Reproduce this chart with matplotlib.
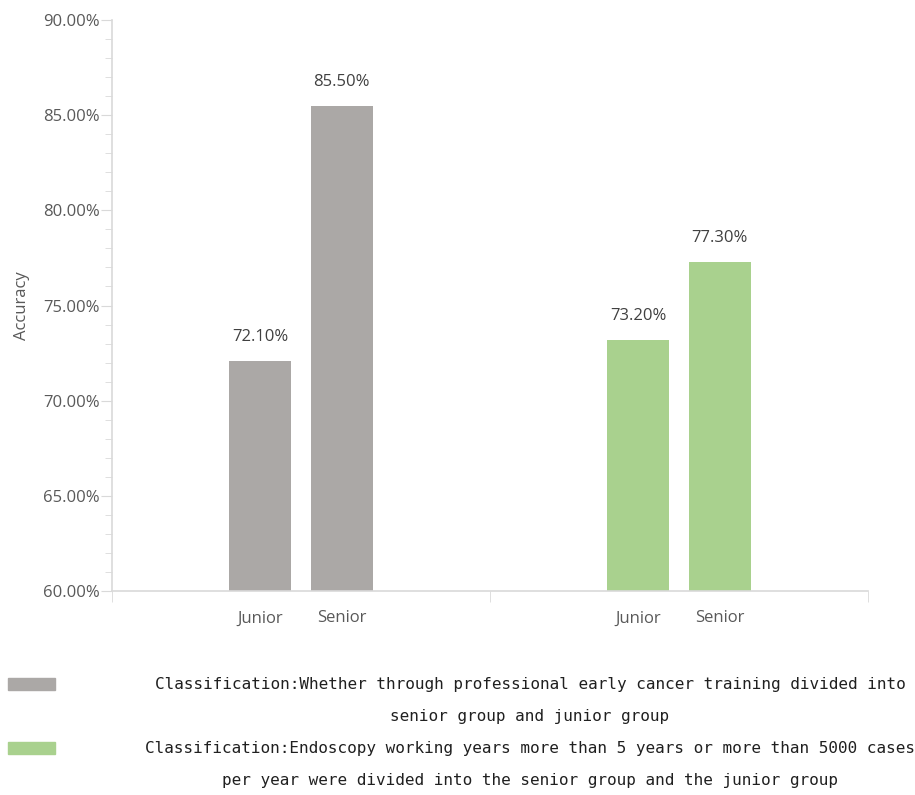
import numpy as np
from matplotlib import pyplot as plt
from matplotlib.patches import Rectangle
from matplotlib.ticker import MultipleLocator, FuncFormatter

# data
groups = ['training', 'experience']
levels = ['Junior', 'Senior']
accuracy = [[72.1, 85.5], [73.2, 77.3]]
colors = ['#ABA8A6', '#A9D18E']
legend_lines = [
    ['Classification:Whether through professional early cancer training divided into',
     'senior group and junior group'],
    ['Classification:Endoscopy working years more than 5 years or more than 5000 cases',
     'per year were divided into the senior group and the junior group'],
]


def main():
    plt.rcParams['font.family'] = ['Open Sans', 'DejaVu Sans']
    fig = plt.figure(figsize=(9.15, 7.95), dpi=100)
    ax = fig.add_axes([0.1224, 0.2566, 0.8262, 0.7182])

    width = 0.164
    offsets = [-0.108, 0.108]
    tick_pos = []
    tick_lab = []
    for g in range(len(groups)):
        for k in range(len(levels)):
            x = g + offsets[k]
            v = accuracy[g][k]
            ax.bar(x, v - 60, width, bottom=60, color=colors[g], zorder=2)
            ax.text(x, v + 0.85, '%.2f%%' % v, ha='center', va='bottom',
                    fontsize=12, color='#404040')
            tick_pos.append(x)
            tick_lab.append(levels[k])

    ax.set_xlim(-0.5, 1.5)
    ax.set_ylim(60, 90)
    ax.yaxis.set_major_locator(MultipleLocator(5))
    ax.yaxis.set_minor_locator(MultipleLocator(1))
    ax.yaxis.set_major_formatter(FuncFormatter(lambda v, p: '%.2f%%' % v))
    ax.set_xticks(tick_pos)
    ax.set_xticklabels(tick_lab)
    ax.set_xticks([-0.5, 0.5, 1.5], minor=True)

    for s in ['top', 'right']:
        ax.spines[s].set_visible(False)
    for s in ['left', 'bottom']:
        ax.spines[s].set_color('#D9D9D9')
        ax.spines[s].set_linewidth(1.2)

    ax.tick_params(axis='y', which='major', length=8, color='#D9D9D9',
                   labelsize=12, labelcolor='#595959', pad=1)
    ax.tick_params(axis='y', which='minor', length=5, color='#D9D9D9')
    ax.tick_params(axis='x', which='major', length=0, labelsize=12,
                   labelcolor='#595959', pad=14)
    ax.tick_params(axis='x', which='minor', length=8, color='#D9D9D9')
    ax.set_ylabel('Accuracy', fontsize=12, color='#595959')
    ax.yaxis.set_label_coords(-0.108, 0.5)

    # legend drawn by hand, swatch + centred two-line label
    W, H = 915.0, 795.0
    line_y = [[684, 716], [748, 780]]
    for g in range(len(groups)):
        y0 = line_y[g][0]
        fig.patches.append(Rectangle((8 / W, 1 - (y0 + 6) / H), 47 / W, 12 / H,
                                     transform=fig.transFigure,
                                     color=colors[g]))
        for j, t in enumerate(legend_lines[g]):
            fig.text(530 / W, 1 - line_y[g][j] / H, t, ha='center',
                     va='center', fontsize=11.5, family='DejaVu Sans Mono',
                     color='#202020')

    fig.savefig('out.png', dpi=100)


if __name__ == '__main__':
    main()
